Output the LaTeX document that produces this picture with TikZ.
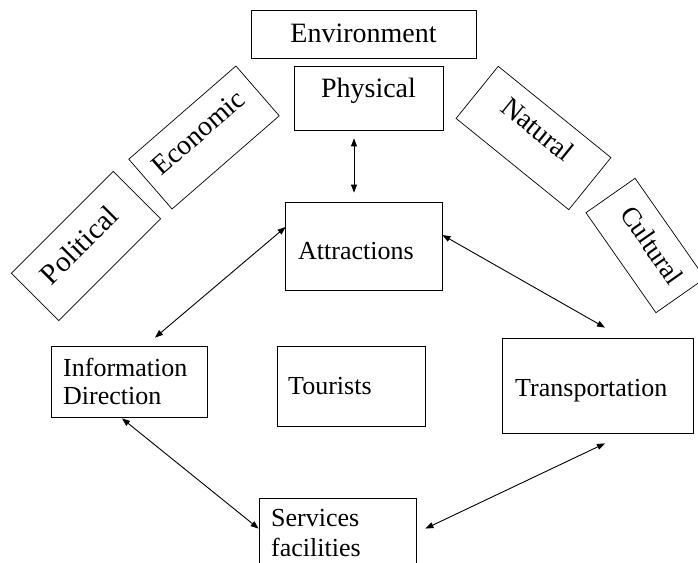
\documentclass[tikz,border=0pt]{standalone}
\usepackage{fontspec}
\setmainfont{Liberation Serif}
\usetikzlibrary{arrows.meta}
\begin{document}
\begin{tikzpicture}[x=1pt,y=-1pt,
  box/.style={draw,line width=0.8pt,inner sep=0pt},
  rbox/.style={draw,line width=0.7pt,inner sep=0pt},
  txt/.style={inner sep=0pt,font=\fontsize{26}{28}\selectfont,align=left},
  bigtxt/.style={inner sep=0pt,font=\fontsize{28}{32}\selectfont},
  link/.style={{Triangle[length=8pt,width=6pt]}-{Triangle[length=8pt,width=6pt]},line width=0.9pt}
]
\clip (0,0) rectangle (698,562);
\fill[white] (0,0) rectangle (698,562);

% upright boxes
\node[box,minimum width=225pt,minimum height=48pt] (env) at (363.5,34) {};
\node[box,minimum width=149pt,minimum height=64pt] (phys) at (368.5,98) {};
\node[box,minimum width=157pt,minimum height=88pt] (attr) at (363.5,246) {};
\node[box,minimum width=156pt,minimum height=71pt] (info) at (129,381.5) {};
\node[box,minimum width=148pt,minimum height=80pt] (tour) at (351,386) {};
\node[box,minimum width=191pt,minimum height=95pt] (trans) at (597.5,385.5) {};
\node[box,minimum width=157pt,minimum height=90pt] (serv) at (337.5,543) {};

% texts of upright boxes
\node[bigtxt,anchor=base] (envt) at (363.5,42) {Environment};
\node[bigtxt,anchor=base] (physt) at (368.5,97) {Physical};
\node[txt,anchor=base west] (attrt) at (298,259) {Attractions};
\node[txt,anchor=north west,font=\fontsize{26}{28}\selectfont] (infot) at (63,357.5) {Information\\Direction};
\node[txt,anchor=base west] (tourt) at (288,394) {Tourists};
\node[txt,anchor=base west] (transt) at (515,396) {Transportation};
\node[txt,anchor=north west,font=\fontsize{26}{30}\selectfont] (servt) at (271,509.5) {Services\\facilities};

% rotated boxes
\node[rbox,rotate=41,minimum width=142pt,minimum height=66pt] (econ) at (204,137.5) {};
\node[bigtxt,rotate=41] (econt) at (198,132.5) {Economic};
\node[rbox,rotate=45,minimum width=144pt,minimum height=67pt] (pol) at (86,246) {};
\node[bigtxt,rotate=45,font=\fontsize{29}{32}\selectfont] (polt) at (79,245) {Political};
\node[rbox,rotate=-39,minimum width=145pt,minimum height=67pt] (nat) at (533.5,138) {};
\node[bigtxt,rotate=-39] (natt) at (538,129) {Natural};
\node[rbox,rotate=-55,minimum width=122pt,minimum height=60pt] (cult) at (645.5,245.5) {};
\node[bigtxt,rotate=-55,font=\fontsize{27}{30}\selectfont] (cultt) at (652,245) {Cultural};

% connectors
\draw[link] ([xshift=-14.5pt,yshift=-8pt]phys.south) -- ([xshift=-9.5pt,yshift=9pt]attr.north);
\draw[link] ([xshift=1pt,yshift=19pt]attr.west) -- ([xshift=26pt,yshift=8pt]info.north);
\draw[link] ([yshift=11pt]attr.east) -- ([xshift=7.5pt,yshift=10pt]trans.north);
\draw[link] ([xshift=-7pt,yshift=-1pt]info.south) -- ([yshift=-31pt]serv.north west);
\draw[link] ([xshift=9pt,yshift=-31pt]serv.north east) -- ([xshift=7.5pt,yshift=-10pt]trans.south);
\end{tikzpicture}
\end{document}
